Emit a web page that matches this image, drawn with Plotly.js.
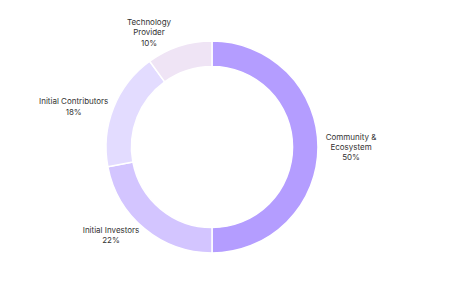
<!DOCTYPE html>
<html>
<head>
<meta charset="utf-8">
<script src="https://cdn.plot.ly/plotly-3.0.1.min.js"></script>
<style>html,body{margin:0;padding:0;background:#fff;}#chart{width:472px;height:292px;}</style>
</head>
<body>
<div id="chart"></div>
<script>
const categories = ["Community &<br>Ecosystem", "Initial Investors", "Initial Contributors", "Technology<br>Provider"];
const shares = [50, 22, 18, 10];
const sliceColors = ["#b49dff", "#d3c5ff", "#e3dcff", "#efe4f5"];

const trace = {
  type: "pie",
  labels: categories,
  values: shares,
  sort: false,
  direction: "clockwise",
  rotation: 0,
  hole: 0.76,
  marker: {colors: sliceColors, line: {color: "#ffffff", width: 1.5}},
  texttemplate: "%{label}<br>%{percent:.0%}",
  textposition: "outside",
  textfont: {family: "Inter, 'Open Sans', sans-serif", size: 8, color: "#333333"},
  domain: {x: [0.2246, 0.6737], y: [0.1336, 0.8596]},
  showlegend: false,
  hoverinfo: "none"
};

Plotly.newPlot("chart", [trace], {
  width: 472, height: 292,
  margin: {l: 0, r: 0, t: 0, b: 0},
  paper_bgcolor: "#ffffff",
  showlegend: false
}, {displayModeBar: false, staticPlot: true});
</script>
</body>
</html>
